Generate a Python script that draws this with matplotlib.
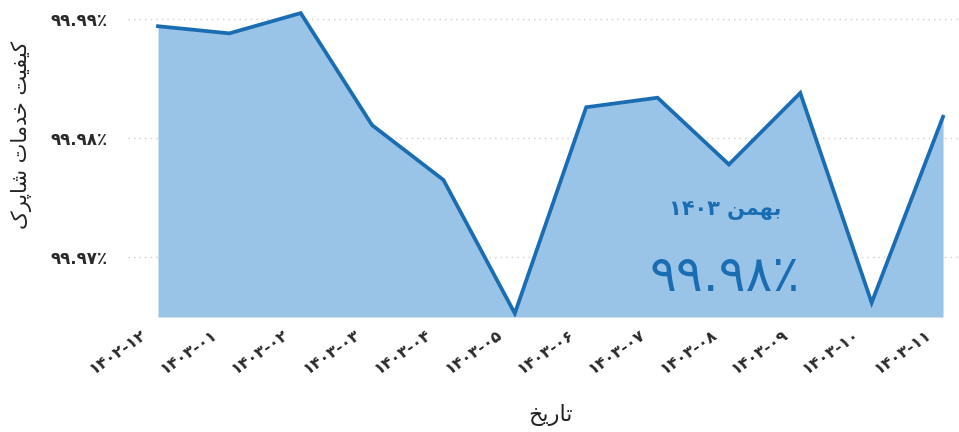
import re
import matplotlib
matplotlib.use("Agg")
import matplotlib.pyplot as plt
import matplotlib.transforms as mtransforms

# ---------------- data ----------------
categories = ["۱۴۰۲-۱۲", "۱۴۰۳-۰۱", "۱۴۰۳-۰۲", "۱۴۰۳-۰۳", "۱۴۰۳-۰۴", "۱۴۰۳-۰۵",
              "۱۴۰۳-۰۶", "۱۴۰۳-۰۷", "۱۴۰۳-۰۸", "۱۴۰۳-۰۹", "۱۴۰۳-۱۰", "۱۴۰۳-۱۱"]
quality = [99.9894, 99.9888, 99.9905, 99.9811, 99.9765, 99.9653,
           99.9826, 99.9834, 99.9778, 99.9838, 99.9662, 99.9818]
y_ticks = [99.97, 99.98, 99.99]
y_label = "کیفیت خدمات شاپرک"
x_label = "تاریخ"
highlight_month = "بهمن ۱۴۰۳"
highlight_value = quality[-1]

# ---------------- simple Arabic-script shaping (matplotlib has no CTL) ----------------
FORMS = {
    'ا': ('\uFE8D', '\uFE8E', None, None),
    'ب': ('\uFE8F', '\uFE90', '\uFE91', '\uFE92'),
    'پ': ('\uFB56', '\uFB57', '\uFB58', '\uFB59'),
    'ت': ('\uFE95', '\uFE96', '\uFE97', '\uFE98'),
    'خ': ('\uFEA5', '\uFEA6', '\uFEA7', '\uFEA8'),
    'د': ('\uFEA9', '\uFEAA', None, None),
    'ر': ('\uFEAD', '\uFEAE', None, None),
    'ش': ('\uFEB5', '\uFEB6', '\uFEB7', '\uFEB8'),
    'ف': ('\uFED1', '\uFED2', '\uFED3', '\uFED4'),
    'م': ('\uFEE1', '\uFEE2', '\uFEE3', '\uFEE4'),
    'ن': ('\uFEE5', '\uFEE6', '\uFEE7', '\uFEE8'),
    'ه': ('\uFEE9', '\uFEEA', '\uFEEB', '\uFEEC'),
    'ک': ('\uFB8E', '\uFB8F', '\uFB90', '\uFB91'),
    'ی': ('\uFBFC', '\uFBFD', '\uFBFE', '\uFBFF'),
}
RIGHT_ONLY = set('ادذرزژو')


def shape(text):
    chars = list(text)
    out = []
    for i, c in enumerate(chars):
        if c not in FORMS:
            out.append(c)
            continue
        prev = chars[i - 1] if i > 0 else None
        nxt = chars[i + 1] if i + 1 < len(chars) else None
        jp = prev in FORMS and prev not in RIGHT_ONLY
        jn = nxt in FORMS and c not in RIGHT_ONLY
        iso, fin, ini, med = FORMS[c]
        if jp and jn:
            out.append(med)
        elif jp:
            out.append(fin)
        elif jn:
            out.append(ini)
        else:
            out.append(iso)
    shaped = ''.join(out)
    tokens = re.findall(r'[0-9۰-۹.٪%\-]+|[^0-9۰-۹.٪%\-]+', shaped)
    vis = [t if re.match(r'[0-9۰-۹.٪%\-]', t) else t[::-1] for t in tokens]
    return ''.join(vis[::-1])


def fa_num(s):
    return s.translate(str.maketrans('0123456789%', '۰۱۲۳۴۵۶۷۸۹٪'))


# ---------------- plot ----------------
plt.rcParams['font.family'] = ['DejaVu Sans']
line_c = '#1a6db3'
fill_c = '#99c4e7'

fig = plt.figure(figsize=(9.59, 4.32), dpi=100)
ax = fig.add_axes([128 / 959, 1 - 317 / 432, 830 / 959, 312 / 432])

x = list(range(len(categories)))
ymin = 99.965
ax.fill_between(x, quality, ymin, color=fill_c, lw=0, zorder=2)
ax.plot(x, quality, color=line_c, lw=2.7, solid_joinstyle='miter', zorder=3)

ax.set_xlim(-0.42, 11.21)
ax.set_ylim(ymin, 99.99118)

ax.set_yticks(y_ticks)
ax.set_yticklabels([fa_num(f"{v:.2f}%") for v in y_ticks], fontsize=12,
                   fontweight='bold', color='#2a2a2a')
ax.grid(axis='y', color='#d0d0d0', linestyle=(0, (1, 3)), lw=1, zorder=1)
ax.tick_params(axis='y', length=0, pad=15)

ax.set_xticks(x)
ax.set_xticklabels(categories, rotation=35, ha='right', va='top',
                   rotation_mode='anchor', fontsize=11.5, fontweight='bold', color='#2a2a2a')
ax.tick_params(axis='x', length=0, pad=7)
offset = mtransforms.ScaledTranslation(-18 / 100, 0, fig.dpi_scale_trans)
for lab in ax.get_xticklabels():
    lab.set_transform(lab.get_transform() + offset)

for s in ax.spines.values():
    s.set_visible(False)

fig.text(22 / 959, 1 - 135 / 432, shape(y_label), rotation=90, ha='center', va='center',
         fontsize=15, color='#222222')
fig.text(551 / 959, 1 - 415 / 432, shape(x_label), ha='center', va='center',
         fontsize=16, color='#222222')

ax.text(0.719, 0.343, shape(highlight_month), transform=ax.transAxes, ha='center',
        va='center', fontsize=15, fontweight='bold', color=line_c)
ax.text(0.719, 0.128, fa_num(f"{highlight_value:.2f}%"), transform=ax.transAxes,
        ha='center', va='center', fontsize=36, color=line_c)

fig.savefig('out.png', dpi=100)
